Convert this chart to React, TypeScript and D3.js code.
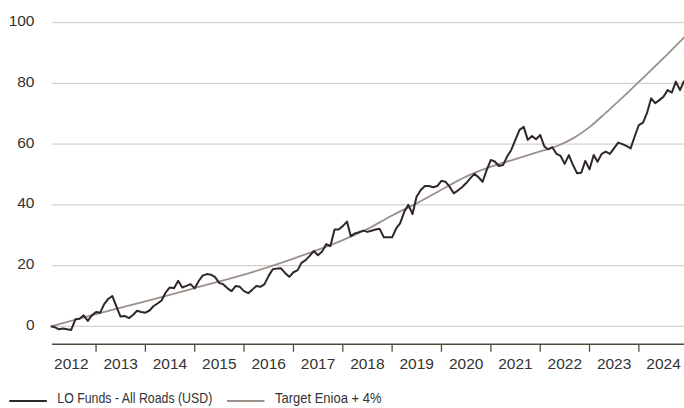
import * as d3 from "d3"
import React from "react"

const W = 684
const H = 408

// x axis: one label per calendar year, ticks on year boundaries
const years = d3.range(2012, 2025)
const yTicks = [0, 20, 40, 60, 80, 100]

// LO Funds - All Roads (USD), monthly from Feb 2012
const fundStart = new Date(2012, 1, 1)
const fundValues = [
  0, -0.3, -1, -0.7, -1, -1.2, 2.3, 2.5, 3.6, 1.8, 3.6, 4.7,
  4.5, 7.2, 9.0, 10.0, 6.5, 3.2, 3.4, 2.7, 3.7, 5.1, 4.7, 4.5,
  5.2, 6.6, 7.5, 8.5, 11.2, 12.8, 12.5, 15.0, 12.8, 13.3, 13.9, 12.5,
  15.0, 16.7, 17.2, 17.0, 16.2, 14.3, 13.8, 12.5, 11.6, 13.3, 13.0, 11.6,
  10.9, 12.0, 13.3, 13.0, 13.9, 16.6, 18.8, 19.0, 19.1, 17.5, 16.3, 17.8,
  18.5, 20.9, 21.8, 23.2, 24.8, 23.4, 24.6, 27.1, 26.4, 31.9, 31.9, 33.0,
  34.5, 29.7, 30.6, 31.0, 31.5, 31.1, 31.5, 31.9, 32.1, 29.3, 29.3, 29.3,
  32.3, 33.9, 37.7, 40.0, 37.0, 42.7, 44.9, 46.2, 46.2, 45.8, 46.2, 47.9,
  47.6, 46.0, 43.8, 44.7, 45.8, 47.1, 48.7, 50.2, 49.1, 47.6, 51.5, 54.8,
  54.2, 52.8, 53.1, 55.9, 58.1, 61.4, 64.7, 65.7, 61.4, 62.7, 61.6, 63.0,
  59.2, 58.3, 59.0, 56.8, 56.1, 53.5, 56.4, 53.1, 50.4, 50.6, 54.5, 51.7,
  56.4, 54.2, 56.8, 57.5, 56.8, 58.6, 60.5, 60.0, 59.4, 58.6, 62.5, 66.3,
  67.1, 70.2, 75.1, 73.5, 74.5, 75.6, 77.8, 77.0, 80.6, 77.8, 80.9,
]

// Target Enioa + 4%, read at roughly half-year points
const targetDates = [
  "2012-02-01", "2013-01-01", "2014-01-01", "2015-01-01", "2016-01-01",
  "2017-01-01", "2018-01-01", "2018-07-01", "2019-01-01", "2019-07-01",
  "2020-01-01", "2020-07-01", "2021-01-01", "2021-07-01", "2022-01-01",
  "2022-05-01", "2022-09-01", "2023-01-01", "2023-05-01", "2023-09-01",
  "2024-01-01", "2024-07-01", "2024-12-01",
]
const targetValues = [
  0, 4.0, 8.2, 12.6, 17.0,
  22.3, 28.4, 32.0, 36.5, 40.5,
  45.0, 49.3, 52.6, 55.1, 57.6,
  59.3, 61.9, 65.6, 70.3, 75.3,
  80.5, 88.3, 95.2,
]

const seriesNames = ["LO Funds - All Roads (USD)", "Target Enioa + 4%"]
const seriesColors = ["#2f2728", "#9c918a"]
// legend text is set condensed in the original
const legendX = [9.3, 227]
const legendWidths = [155, 106.5]

const font = "'Liberation Sans', Arial, sans-serif"

export default function App() {
  const left = 52
  const right = 684
  const x = d3.scaleTime()
    .domain([new Date(2012, 0, 1), new Date(2025, 0, 1)])
    .range([46.6, 688.3])
  const y = d3.scaleLinear().domain([0, 100]).range([326.3, 22.7])
  const axisY = 344.3

  const fund = fundValues.map((v, i) => ({ date: d3.timeMonth.offset(fundStart, i), v }))
  const target = targetDates.map((d, i) => ({ date: new Date(d + "T00:00:00"), v: targetValues[i] }))

  const line = d3.line<{ date: Date; v: number }>()
    .x(d => x(d.date))
    .y(d => y(d.v))
  const smooth = d3.line<{ date: Date; v: number }>()
    .x(d => x(d.date))
    .y(d => y(d.v))
    .curve(d3.curveMonotoneX)

  return (
    <svg width={W} height={H} style={{ position: "absolute", left: 0, top: 0 }} fontFamily={font}>
      <rect width={W} height={H} fill="#fff" />
      {yTicks.map(t => (
        <g key={t}>
          <line x1={left} x2={right} y1={y(t)} y2={y(t)} stroke="#d3d3d3" strokeWidth={1.3} />
          <text x={34.5} y={y(t) + 3.4} textAnchor="end" fontSize={15.5} fill="#333">{t}</text>
        </g>
      ))}
      <path d={smooth(target) ?? ""} fill="none" stroke={seriesColors[1]} strokeWidth={1.8} />
      <path d={line(fund) ?? ""} fill="none" stroke={seriesColors[0]} strokeWidth={2} strokeLinejoin="round" />
      <line x1={left} x2={right} y1={axisY} y2={axisY} stroke="#4d4d3e" strokeWidth={1.5} />
      {years.map(yr => {
        const mid = x(new Date(yr, 6, 2))
        const edge = x(new Date(yr + 1, 0, 1))
        return (
          <g key={yr}>
            {yr < 2024 && (
              <line x1={edge} x2={edge} y1={axisY} y2={axisY + 7.5} stroke="#4d4d3e" strokeWidth={1.3} />
            )}
            <text x={mid} y={368.5} textAnchor="middle" fontSize={15.5} fill="#333">{yr}</text>
          </g>
        )
      })}
      {seriesNames.map((name, i) => {
        const lx = legendX[i]
        return (
          <g key={name}>
            <line x1={lx} x2={lx + 37.5} y1={401} y2={401} stroke={seriesColors[i]} strokeWidth={2} />
            <text
              x={lx + 48}
              y={402.5}
              fontSize={15}
              fill="#333"
              textLength={legendWidths[i]}
              lengthAdjust="spacingAndGlyphs"
            >{name}</text>
          </g>
        )
      })}
    </svg>
  )
}
